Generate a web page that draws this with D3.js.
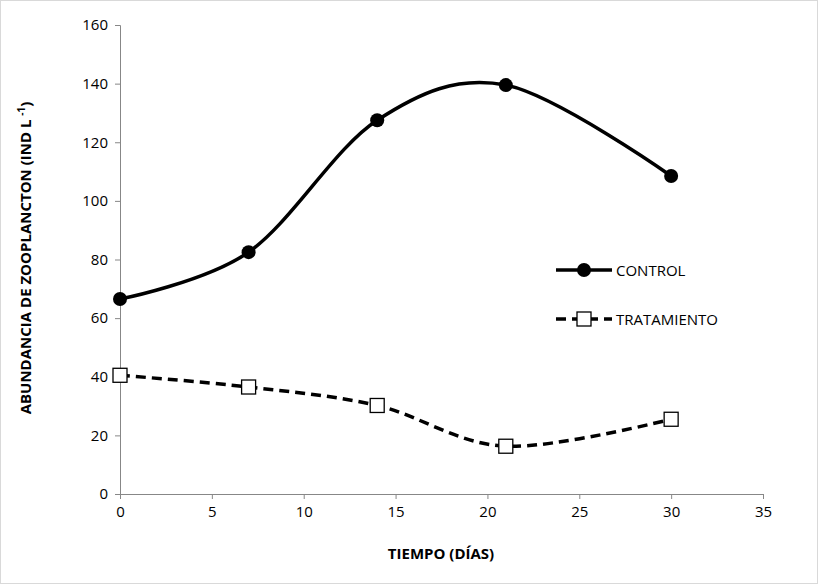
<!DOCTYPE html>
<html lang="en">
<head>
<meta charset="UTF-8">
<script src="https://d3js.org/d3.v7.min.js"></script>
<style>
  body { margin: 0; background: #fff; }
  text { font-family: "Open Sans", "Liberation Sans", Arial, sans-serif; }
</style>
</head>
<body>
<svg id="chart" width="818" height="584"></svg>
<script>
// Data
const days = [0, 7, 14, 21, 30];
const control = [66.5, 82.5, 127.5, 139.5, 108.5];
const tratamiento = [40.5, 36.5, 30.2, 16.3, 25.5];
const xTicks = [0, 5, 10, 15, 20, 25, 30, 35];
const yTicks = [0, 20, 40, 60, 80, 100, 120, 140, 160];

const svg = d3.select("#chart");
svg.append("rect").attr("x", 0.5).attr("y", 0.5).attr("width", 817).attr("height", 583)
   .attr("fill", "#fff").attr("stroke", "#d9d9d9");

const x = d3.scaleLinear().domain([0, 35]).range([120, 763]);
const y = d3.scaleLinear().domain([0, 160]).range([494, 25]);

const FONT = "'Open Sans', 'Liberation Sans', Arial, sans-serif";
const xAxis = svg.append("g").attr("transform", "translate(0,494)")
  .call(d3.axisBottom(x).tickValues(xTicks).tickSize(5).tickPadding(7));
const yAxis = svg.append("g").attr("transform", "translate(120,0)")
  .call(d3.axisLeft(y).tickValues(yTicks).tickSize(5).tickPadding(7));
[xAxis, yAxis].forEach(a => {
  a.select(".domain").attr("stroke", "#878787");
  a.selectAll(".tick line").attr("stroke", "#878787");
  a.selectAll(".tick text").attr("font-size", 15).attr("fill", "#000").style("font-family", FONT);
});
svg.append("text").attr("x", 441).attr("y", 559).attr("text-anchor", "middle")
   .attr("font-size", 15).attr("font-weight", "bold").text("TIEMPO (DÍAS)");
const yt = svg.append("text").attr("transform", "translate(31,258) rotate(-90)")
   .attr("text-anchor", "middle").attr("font-size", 15).attr("font-weight", "bold");
yt.append("tspan").text("ABUNDANCIA DE ZOOPLANCTON (IND L ");
yt.append("tspan").attr("font-size", 10).attr("dy", -6).text("-1");
yt.append("tspan").attr("dy", 6).text(")");

const line = d3.line().x(d => x(d[0])).y(d => y(d[1])).curve(d3.curveCardinal.tension(0));
const cData = days.map((d, i) => [d, control[i]]);
const tData = days.map((d, i) => [d, tratamiento[i]]);

svg.append("path").attr("d", line(cData)).attr("fill", "none")
   .attr("stroke", "#000").attr("stroke-width", 3.5);
svg.append("path").attr("d", line(tData)).attr("fill", "none")
   .attr("stroke", "#000").attr("stroke-width", 3.5).attr("stroke-dasharray", "10,6");

svg.selectAll(".cpt").data(cData).enter().append("circle")
   .attr("cx", d => x(d[0])).attr("cy", d => y(d[1])).attr("r", 7).attr("fill", "#000");
svg.selectAll(".tpt").data(tData).enter().append("rect")
   .attr("x", d => x(d[0]) - 7).attr("y", d => y(d[1]) - 7).attr("width", 14).attr("height", 14)
   .attr("fill", "#fff").attr("stroke", "#000").attr("stroke-width", 1.3);

// legend
const lg = svg.append("g");
lg.append("line").attr("x1", 556).attr("x2", 612).attr("y1", 270).attr("y2", 270)
  .attr("stroke", "#000").attr("stroke-width", 3.5);
lg.append("circle").attr("cx", 584).attr("cy", 270).attr("r", 7).attr("fill", "#000");
lg.append("text").attr("x", 616).attr("y", 276).attr("font-size", 15).text("CONTROL");
lg.append("line").attr("x1", 556).attr("x2", 612).attr("y1", 319).attr("y2", 319)
  .attr("stroke", "#000").attr("stroke-width", 3.5).attr("stroke-dasharray", "10,6");
lg.append("rect").attr("x", 577).attr("y", 312).attr("width", 14).attr("height", 14)
  .attr("fill", "#fff").attr("stroke", "#000").attr("stroke-width", 1.3);
lg.append("text").attr("x", 616).attr("y", 325).attr("font-size", 15).text("TRATAMIENTO");
</script>
</body>
</html>
